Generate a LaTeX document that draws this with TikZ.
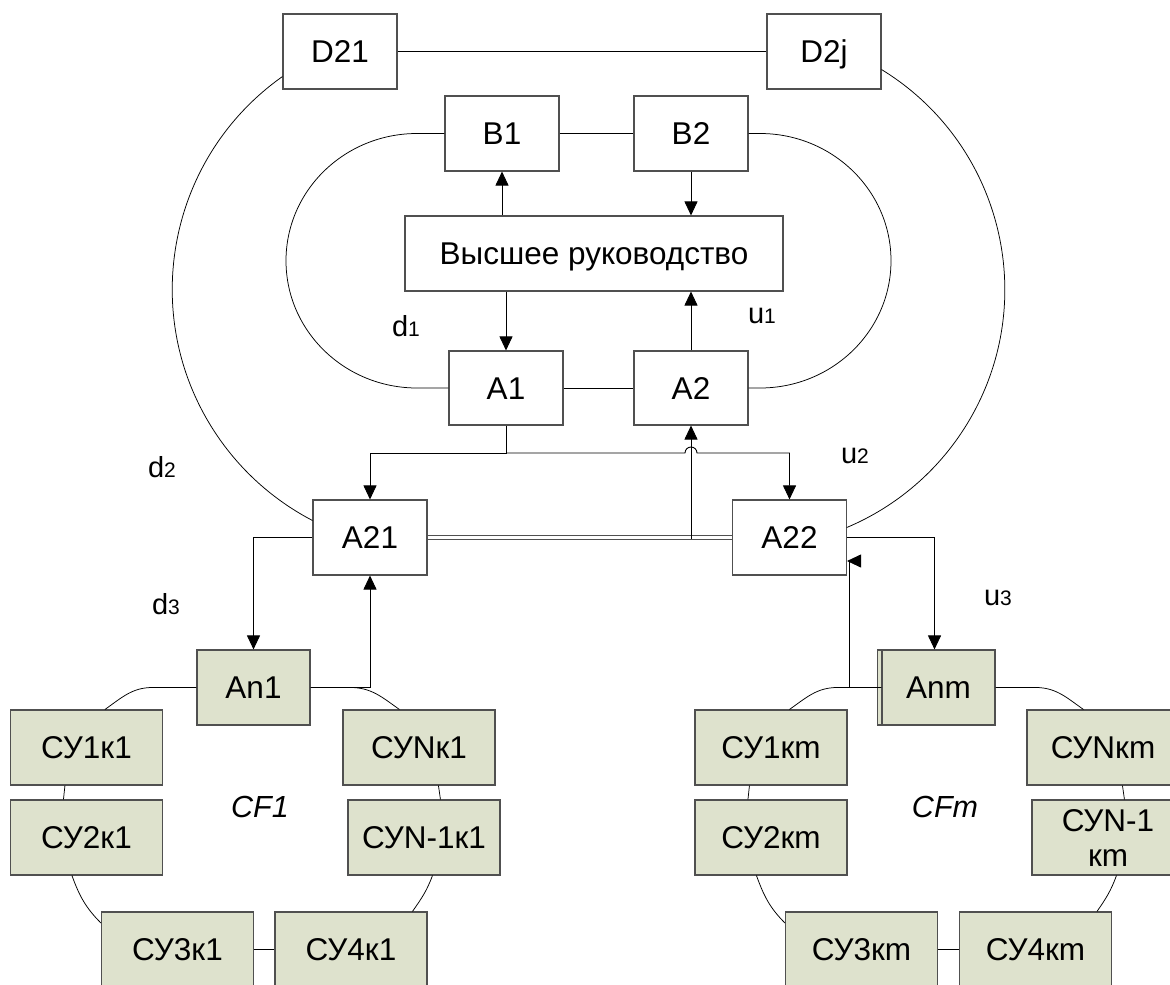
\documentclass[tikz,border=0pt]{standalone}
\usepackage{fontspec}
\setmainfont{Liberation Sans}
\usetikzlibrary{arrows.meta,calc}
\definecolor{boxgreen}{HTML}{DEE2CD}
\definecolor{edgegray}{HTML}{505050}
\newcommand{\smallidx}[1]{{\fontsize{21}{21}\selectfont #1}}
\tikzset{
  wbox/.style={draw=edgegray, line width=1.1pt, fill=white, minimum width=114pt,
    minimum height=75pt, inner sep=0pt, text height=22.5pt, text depth=0pt,
    font=\fontsize{31.5}{36}\selectfont},
  gbox/.style={wbox, fill=boxgreen, minimum width=152pt},
  conn/.style={line width=0.9pt, black},
  arr/.style={conn, -{Triangle[length=14pt,width=13pt]}},
  ring/.style={line width=0.75pt, black},
  dbl/.style={draw=edgegray, line width=1pt, double=white, double distance=2.4pt},
  lbl/.style={font=\fontsize{29}{29}\selectfont, inner sep=0pt},
  cflbl/.style={font=\fontsize{30.5}{30.5}\selectfont\itshape, inner sep=0pt}
}
\begin{document}
\begin{tikzpicture}[x=1pt,y=1pt]
\useasboundingbox (0,0) rectangle (1170,-985);
\fill[white] (0,0) rectangle (1170,-985);

% upper boxes
\node[wbox] (D21) at (340,-51.5) {D21};
\node[wbox] (D2j) at (824,-51.5) {D2j};
\node[wbox] (B1) at (502,-133.5) {B1};
\node[wbox] (B2) at (691,-133.5) {B2};
\node[wbox, minimum width=378pt] (V) at (594,-253.5) {Высшее руководство};
\node[wbox, minimum height=74pt] (A1) at (506,-388) {A1};
\node[wbox, minimum height=74pt] (A2) at (691,-388) {A2};
\node[wbox] (A21) at (370,-537.5) {A21};
\node[wbox] (A22) at (789.5,-537.5) {A22};

% lower green boxes
\node[gbox, minimum width=113pt] (An1) at (253.5,-687.5) {An1};
\draw[draw=edgegray, line width=1.1pt, fill=boxgreen] (877.5,-650) rectangle (995,-725);
\node[gbox, minimum width=113pt] (Anm) at (938.5,-687.5) {Anm};

\node[gbox] (s11) at (86.5,-747.5) {СУ1к1};
\node[gbox] (s21) at (86.5,-837.5) {СУ2к1};
\node[gbox] (sN1) at (419,-747.5) {СУNк1};
\node[gbox] (sM1) at (424,-837.5) {СУN-1к1};
\node[gbox] (s31) at (177.5,-949.5) {СУ3к1};
\node[gbox] (s41) at (351,-949.5) {СУ4к1};

\node[gbox] (s1m) at (771,-747.5) {СУ1кm};
\node[gbox] (s2m) at (771,-837.5) {СУ2кm};
\node[gbox] (sNm) at (1103,-747.5) {СУNкm};
\node[gbox, align=center, text height=, text depth=, font=\fontsize{31.5}{35}\selectfont] (sMm) at (1108,-837.5) {СУN-1\\кm};
\node[gbox] (s3m) at (861.5,-949.5) {СУ3кm};
\node[gbox] (s4m) at (1035.5,-949.5) {СУ4кm};

% straight links between peers
\draw[conn] (D21) -- (D2j);
\draw[conn] (B1) -- (B2);
\draw[conn] (A1) -- (A2);

% inner loops
\draw[ring] (B1.west) -- (417,-133.5)
  arc[start angle=90, end angle=270, x radius=131, y radius=127.25] -- (A1.west);
\draw[ring] (B2.east) -- (760,-133.5)
  arc[start angle=90, end angle=-90, x radius=131, y radius=127.25] -- (A2.east);

% outer loops
\draw[ring] ([yshift=13pt]D21.south west) arc[start angle=125.25, end angle=242.5, radius=260.6];
\draw[ring] ([yshift=20pt]D2j.south east) arc[start angle=58.5, end angle=-67.2, radius=258.1];

% arrows around top management
\draw[arr] (V.north -| B1) -- (B1.south);
\draw[arr] (B2.south) -- (V.north -| B2);
\draw[arr] (V.south -| A1) -- (A1.north);
\draw[arr] (A2.north) -- (V.south -| A2);

% distribution from A1
\coordinate (j) at (A1.south |- 0,-453);
\draw[arr] (A1.south) -- (j) -| (A21.north);
\draw[arr] (j) -- ($(A2.south |- j)+(-6,0)$) arc[start angle=180, end angle=0, radius=6] -| (A22.north);
\draw[dbl] (A21.east) -- (A22.west);
\draw[arr] ($(A2.south |- A21.east)+(0,-1.5)$) -- (A2.south);

% links to lower level
\draw[arr] (A21.west) -| (An1.north);
\draw[arr] (An1.east) -| (A21.south);
\draw[arr] (A22.east) -| ([xshift=-4pt]Anm.north);
\coordinate (k) at (849,-561);
\draw[arr] (Anm.west) -| (k) -- (A22.east |- k);

% rings of control units
\foreach \a/\p/\q/\r/\u/\v/\w in {An1/s11/s21/sN1/sM1/s31/s41, Anm/s1m/s2m/sNm/sMm/s3m/s4m}{
  \draw[ring] (\a.west) -- ++(-44,0) to[out=180,in=35] ($(\p.north west)+(95,0)$);
  \draw[ring] ($(\p.south west)+(55,0)$) -- ($(\q.north west)+(53.5,0)$);
  \draw[ring] ($(\q.south west)+(62,0)$) to[out=-70,in=135] ($(\v.west)+(0,26.5)$);
  \draw[ring] (\v.east) -- (\w.west);
  \draw[ring] ($(\u.south west)+(85,0)$) to[out=-110,in=55] ($(\w.north west)+(138,0)$);
  \draw[ring] ($(\r.south west)+(96,0)$) -- ($(\u.north west)+(93,0)$);
  \draw[ring] (\a.east) -- ++(40,0) to[out=0,in=145] ($(\r.north west)+(57,0)$);
}

% labels
\node[lbl] (ld1) at (406,-326) {d\smallidx{1}};
\node[lbl] (lu1) at (762,-316) {u\smallidx{1}};
\node[lbl] (ld2) at (162,-467) {d\smallidx{2}};
\node[lbl] (lu2) at (855,-456) {u\smallidx{2}};
\node[lbl] (ld3) at (166,-604) {d\smallidx{3}};
\node[lbl] (lu3) at (998,-598) {u\smallidx{3}};
\node[cflbl] (cf1) at (260,-807) {CF1};
\node[cflbl] (cfm) at (945,-807) {CFm};
\end{tikzpicture}
\end{document}
